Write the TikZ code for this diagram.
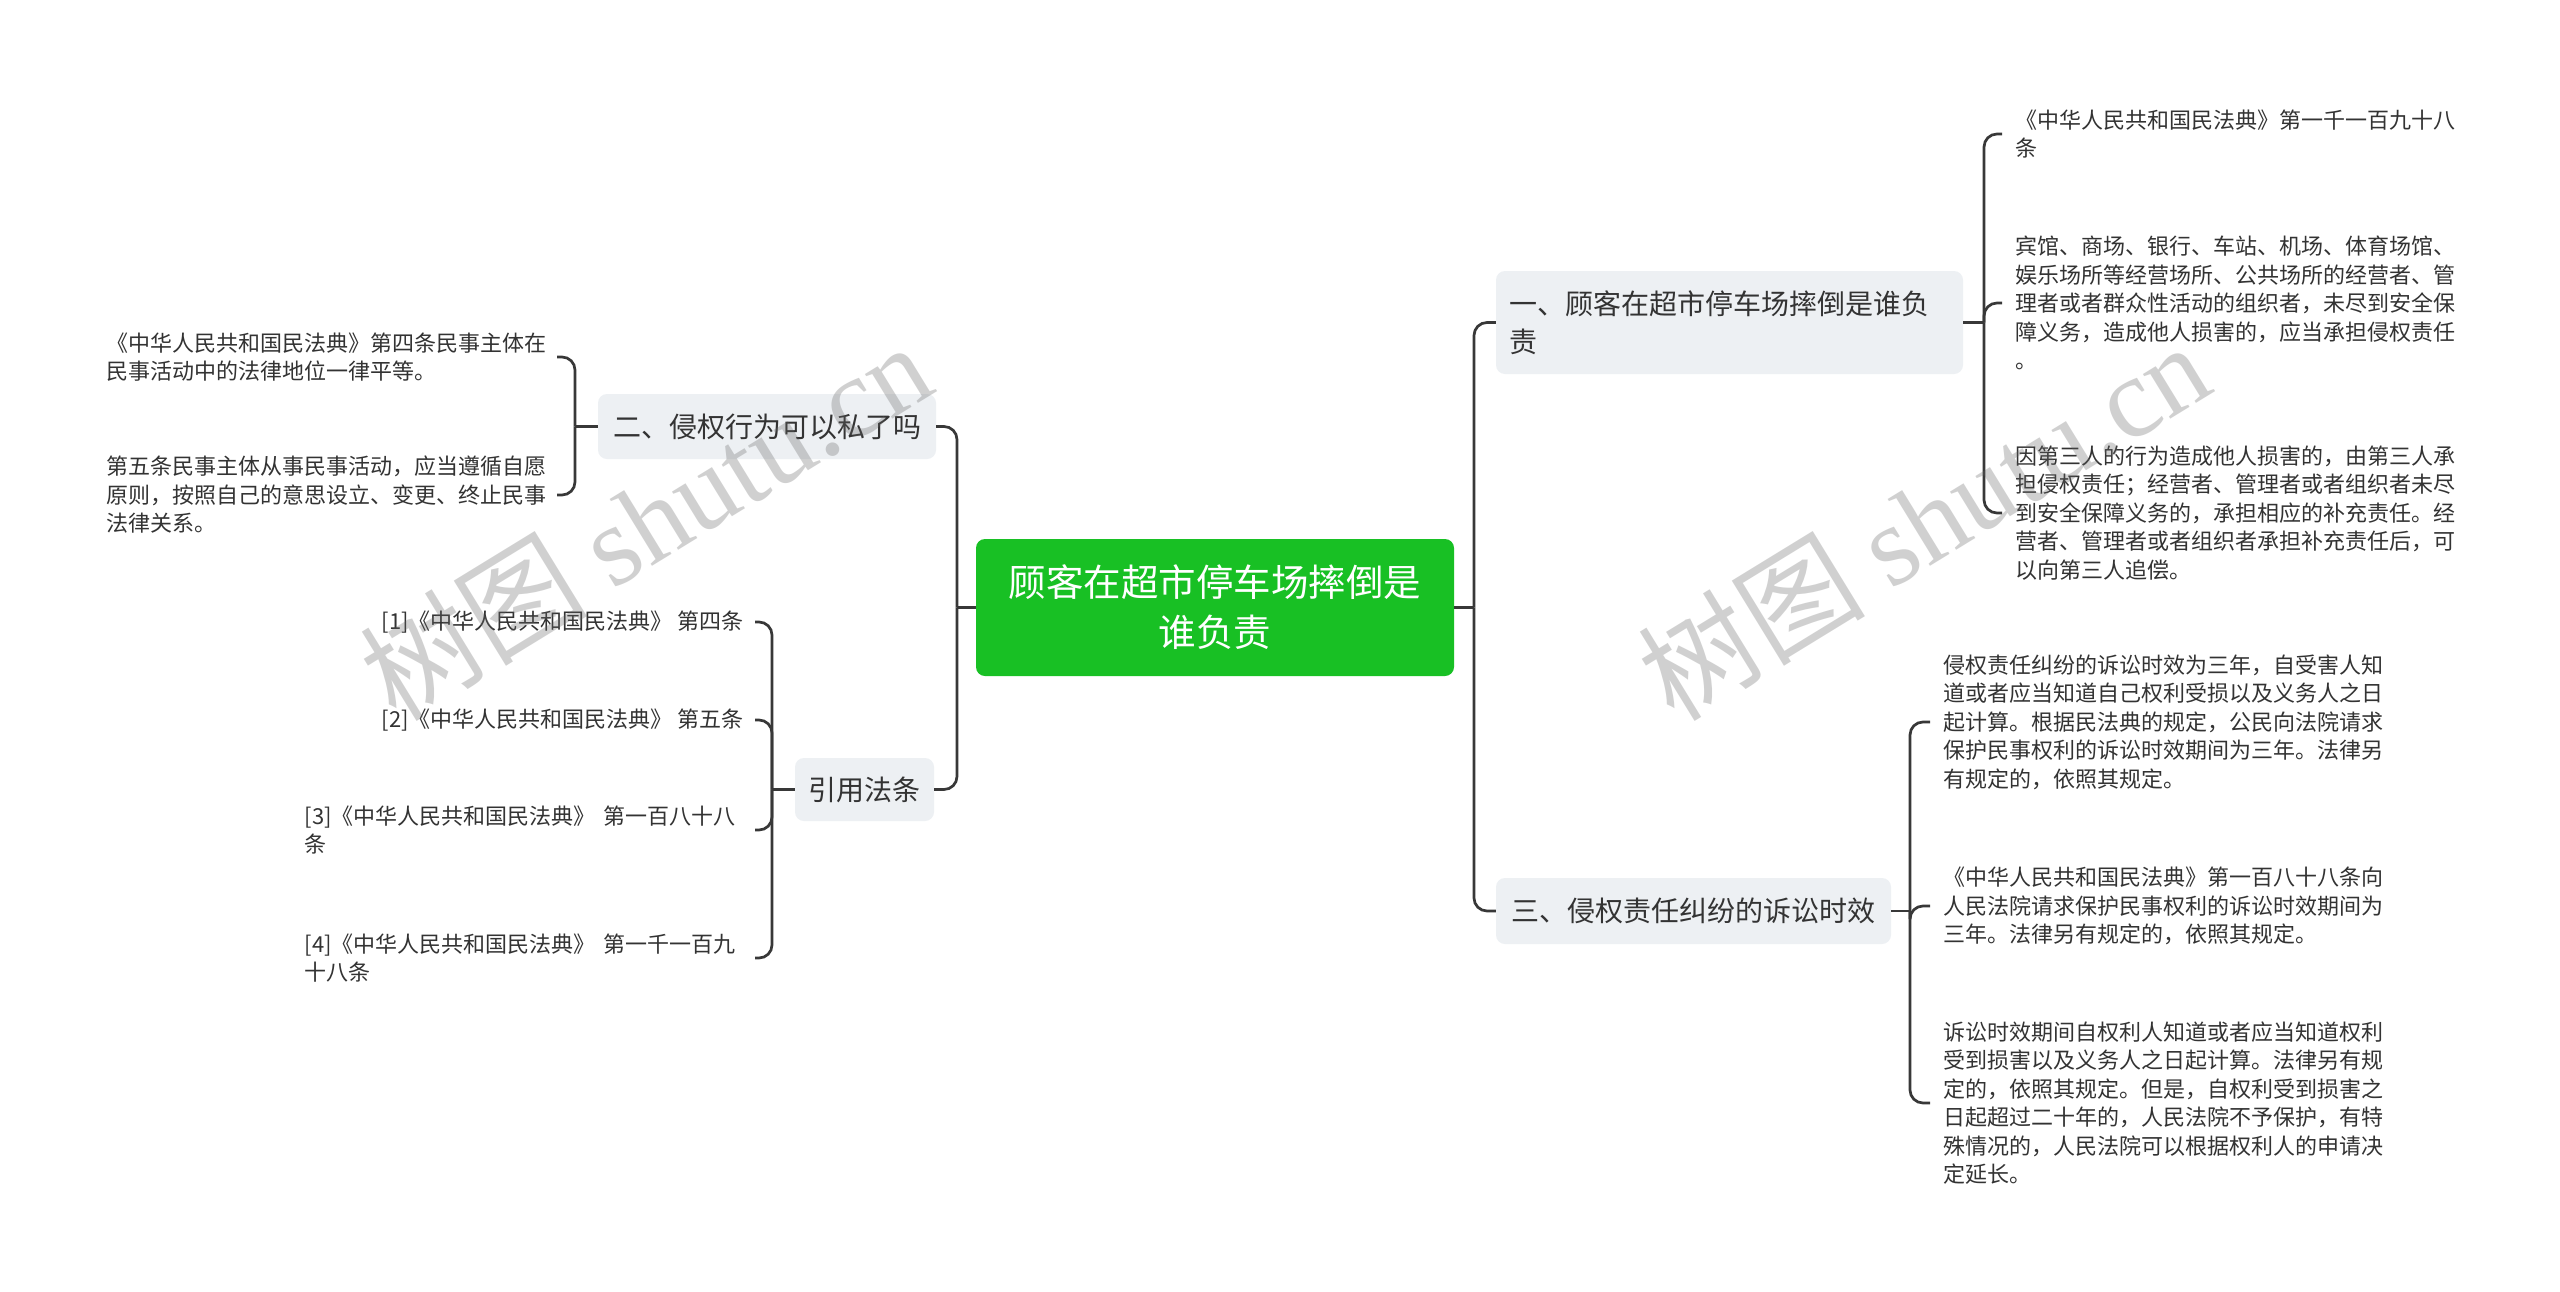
\documentclass[tikz,border=0pt]{standalone}
\usepackage{fontspec}
\setmainfont{Noto Sans CJK SC}
\newfontfamily\wmlatin{Liberation Serif}
\definecolor{ink}{HTML}{333333}
\definecolor{linec}{HTML}{383838}
\definecolor{boxfill}{HTML}{EDF0F3}
\definecolor{rootgreen}{RGB}{24,192,36}
\begin{document}
\begin{tikzpicture}[x=1pt,y=-1pt,
  root/.style={fill=rootgreen, rounded corners=9pt, text=white, align=center,
    font=\fontsize{37.5}{50}\selectfont, inner sep=0pt},
  topic/.style={fill=boxfill, rounded corners=9pt, text=ink, align=left,
    font=\fontsize{28}{38}\selectfont, inner xsep=13pt, inner ysep=0pt},
  leaf/.style={text=ink, align=left, font=\fontsize{22}{28.5}\selectfont,
    inner xsep=13pt, inner ysep=0pt},
  conn/.style={draw=linec, line width=2.7pt},
  brace/.style={draw=linec, line width=2.7pt, rounded corners=13pt},
  wm/.style={rotate=31.5, text=black!60, text opacity=0.3,
    font=\fontsize{114}{114}\selectfont, inner sep=0pt}
]
\fill[white] (0,0) rectangle (2560,1291);
\useasboundingbox (0,0) rectangle (2560,1291);

% root
\node[root, minimum width=478pt, minimum height=137pt] (c) at (1215,607.5)
  {顾客在超市停车场摔倒是\\谁负责};

% level-1 topics
\node[topic, text width=441pt, minimum height=103pt] (n1) at (1729.5,322.5)
  {一、顾客在超市停车场摔倒是谁负\\责};
\node[topic, minimum width=395pt, minimum height=66pt] (n3) at (1693.5,911)
  {三、侵权责任纠纷的诉讼时效};
\node[topic, minimum width=338pt, minimum height=65pt] (n2) at (767,426.5)
  {二、侵权行为可以私了吗};
\node[topic, minimum width=139pt, minimum height=63pt] (n4) at (864.5,789.5)
  {引用法条};

% leaves of n1
\node[leaf, anchor=west, text width=440pt] (a1) at (2002,134)
  {《中华人民共和国民法典》第一千一百九十八\\条};
\node[leaf, anchor=west, text width=440pt] (a2) at (2002,303)
  {宾馆、商场、银行、车站、机场、体育场馆、\\娱乐场所等经营场所、公共场所的经营者、管\\理者或者群众性活动的组织者，未尽到安全保\\障义务，造成他人损害的，应当承担侵权责任\\。};
\node[leaf, anchor=west, text width=440pt] (a3) at (2002,513)
  {因第三人的行为造成他人损害的，由第三人承\\担侵权责任；经营者、管理者或者组织者未尽\\到安全保障义务的，承担相应的补充责任。经\\营者、管理者或者组织者承担补充责任后，可\\以向第三人追偿。};

% leaves of n3
\node[leaf, anchor=west, text width=440pt] (b1) at (1930,722)
  {侵权责任纠纷的诉讼时效为三年，自受害人知\\道或者应当知道自己权利受损以及义务人之日\\起计算。根据民法典的规定，公民向法院请求\\保护民事权利的诉讼时效期间为三年。法律另\\有规定的，依照其规定。};
\node[leaf, anchor=west, text width=440pt] (b2) at (1930,906)
  {《中华人民共和国民法典》第一百八十八条向\\人民法院请求保护民事权利的诉讼时效期间为\\三年。法律另有规定的，依照其规定。};
\node[leaf, anchor=west, text width=440pt] (b3) at (1930,1103)
  {诉讼时效期间自权利人知道或者应当知道权利\\受到损害以及义务人之日起计算。法律另有规\\定的，依照其规定。但是，自权利受到损害之\\日起超过二十年的，人民法院不予保护，有特\\殊情况的，人民法院可以根据权利人的申请决\\定延长。};

% leaves of n2
\node[leaf, anchor=east, text width=437pt] (g1) at (557,357)
  {《中华人民共和国民法典》第四条民事主体在\\民事活动中的法律地位一律平等。};
\node[leaf, anchor=east, text width=437pt] (g2) at (557,495)
  {第五条民事主体从事民事活动，应当遵循自愿\\原则，按照自己的意思设立、变更、终止民事\\法律关系。};

% leaves of n4
\node[leaf, anchor=east, inner xsep=11pt] (r1) at (755,622)
  {[1]《中华人民共和国民法典》 第四条};
\node[leaf, anchor=east, inner xsep=11pt] (r2) at (755,720)
  {[2]《中华人民共和国民法典》 第五条};
\node[leaf, anchor=east, inner xsep=11pt, text width=439pt] (r3) at (755,830)
  {[3]《中华人民共和国民法典》 第一百八十八\\条};
\node[leaf, anchor=east, inner xsep=11pt, text width=439pt] (r4) at (755,958)
  {[4]《中华人民共和国民法典》 第一千一百九\\十八条};

% junction points
\coordinate (jR) at (1474,607.5);
\coordinate (jL) at (957,607.5);
\coordinate (j1) at (1984,322.5);
\coordinate (j3) at (1910,911);
\coordinate (j2) at (575,426.5);
\coordinate (j4) at (772,789.5);

% root connectors
\draw[conn] (c.east) -- (jR);
\draw[brace] (jR) |- (n1.west);
\draw[brace] (jR) |- (n3.west);
\draw[conn] (c.west) -- (jL);
\draw[brace] (jL) |- (n2.east);
\draw[brace] (jL) |- (n4.east);

% n1 connectors
\draw[conn] (n1.east) -- (j1);
\draw[brace] (j1) |- (a1.west);
\draw[brace] (j1) |- (a2.west);
\draw[brace] (j1) |- (a3.west);

% n3 connectors
\draw[conn] (n3.east) -- (j3);
\draw[brace] (j3) |- (b1.west);
\draw[brace] (j3) |- (b2.west);
\draw[brace] (j3) |- (b3.west);

% n2 connectors
\draw[conn] (n2.west) -- (j2);
\draw[brace] (j2) |- (g1.east);
\draw[brace] (j2) |- (g2.east);

% n4 connectors
\draw[conn] (n4.west) -- (j4);
\draw[brace] (j4) |- (r1.east);
\draw[brace] (j4) |- (r2.east);
\draw[brace] (j4) |- (r3.east);
\draw[brace] (j4) |- (r4.east);

% watermarks
\node[wm] (wm1) at (645,520) {树图 {\wmlatin shutu.cn}};
\node[wm] (wm2) at (1923,520) {树图 {\wmlatin shutu.cn}};
\end{tikzpicture}
\end{document}
